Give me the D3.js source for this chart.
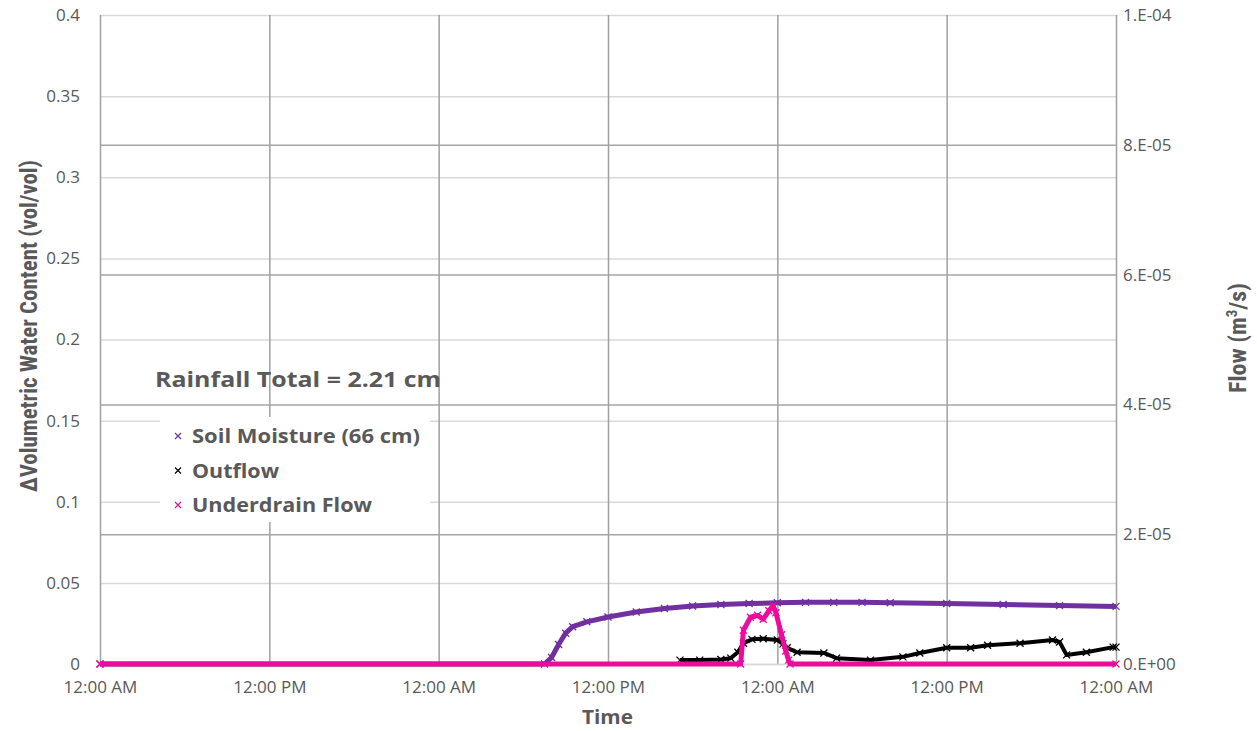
<!DOCTYPE html>
<html>
<head>
<meta charset="utf-8">
<script src="https://cdn.jsdelivr.net/npm/d3@7"></script>
<style>
    body { margin: 0; background: #fff; }
    svg { display: block; font-family: "Open Sans", Lato, sans-serif; }
    .tick text { fill: #595959; font-size: 17px; font-family: "Open Sans", Lato, sans-serif; }
    .title { fill: #595959; font-weight: bold; font-family: "Open Sans", Lato, sans-serif; }
    .narrow { font-family: "Liberation Sans Narrow", "Roboto Condensed", "Liberation Sans", sans-serif; }
</style>
</head>
<body>
<svg id="chart" width="1257" height="731"></svg>
<script>
// hours since the first 12:00 AM, value
const soilMoisture = [
    [0, 0], [31.5, 0], [32, 0.004], [32.5, 0.012], [33, 0.019], [33.5, 0.023],
    [34.5, 0.026], [36, 0.029], [38, 0.032], [40, 0.0342], [42, 0.0357],
    [44, 0.0367], [46, 0.0373], [48, 0.0377], [50, 0.038], [52, 0.038],
    [54, 0.038], [56, 0.0378], [60, 0.0373], [64, 0.0367], [68, 0.036], [72, 0.0355]
];
// m3/s
const outflow = [
    [41.1, 0.6e-6], [42.5, 0.6e-6], [44, 0.7e-6], [44.7, 0.9e-6], [45.2, 1.8e-6],
    [45.6, 3.2e-6], [46.2, 3.8e-6], [47.0, 3.9e-6], [48.0, 3.7e-6], [48.4, 3.1e-6],
    [48.7, 2.5e-6], [49.4, 1.8e-6], [51.3, 1.7e-6], [52.2, 0.9e-6], [54.6, 0.6e-6],
    [56.9, 1.1e-6], [58.1, 1.7e-6], [60.0, 2.5e-6], [61.7, 2.5e-6], [62.9, 2.9e-6],
    [65.2, 3.2e-6], [67.5, 3.7e-6], [68.0, 3.4e-6], [68.5, 1.4e-6], [69.9, 1.8e-6],
    [71.8, 2.6e-6], [72, 2.6e-6]
];
const underdrainFlow = [
    [0, 0], [45.4, 0], [45.6, 5.2e-6], [46.1, 7.2e-6], [46.6, 7.5e-6], [47.0, 6.9e-6],
    [47.4, 8.2e-6], [47.7, 9.0e-6], [47.9, 7.9e-6], [48.3, 4.5e-6], [48.6, 2.0e-6],
    [48.8, 0.6e-6], [48.9, 0], [72, 0]
];
const leftTicks = [0, 0.05, 0.1, 0.15, 0.2, 0.25, 0.3, 0.35, 0.4];
const leftTickLabels = ["0", "0.05", "0.1", "0.15", "0.2", "0.25", "0.3", "0.35", "0.4"];
const rightTicks = [0, 2e-5, 4e-5, 6e-5, 8e-5, 1e-4];
const rightTickLabels = ["0.E+00", "2.E-05", "4.E-05", "6.E-05", "8.E-05", "1.E-04"];
const xTickHours = [0, 12, 24, 36, 48, 60, 72];
const legendLabels = ["Soil Moisture (66 cm)", "Outflow", "Underdrain Flow"];

const margin = {top: 15, right: 141, bottom: 67, left: 100};
const width = 1257 - margin.left - margin.right;
const height = 731 - margin.top - margin.bottom;
const start = new Date(2013, 5, 1, 0, 0);
const toDate = h => new Date(start.getTime() + h * 3600e3);

const svg = d3.select("#chart");
const chart = svg.append("g").attr("transform", "translate(" + margin.left + "," + margin.top + ")");

const x = d3.scaleTime().domain([toDate(0), toDate(72)]).range([0, width]);
const yL = d3.scaleLinear().domain([0, 0.4]).range([height, 0]);
const yR = d3.scaleLinear().domain([0, 1e-4]).range([height, 0]);

// light primary gridlines
chart.append("g").attr("class", "grid left")
    .call(d3.axisLeft(yL).tickValues(leftTicks).tickSize(-width).tickFormat(""))
    .call(g => g.select(".domain").remove())
    .call(g => g.selectAll("line").attr("stroke", "#d9d9d9").attr("stroke-width", 1.5));
// secondary gridlines (darker)
chart.append("g").attr("class", "grid right")
    .call(d3.axisLeft(yR).tickValues(rightTicks.slice(1, -1)).tickSize(-width).tickFormat(""))
    .call(g => g.select(".domain").remove())
    .call(g => g.selectAll("line").attr("stroke", "#a6a6a6").attr("stroke-width", 1.5));
// vertical gridlines
chart.append("g").attr("class", "grid x")
    .call(d3.axisBottom(x).tickValues(xTickHours.map(toDate)).tickSize(height).tickFormat(""))
    .call(g => g.select(".domain").remove())
    .call(g => g.selectAll("line").attr("stroke", "#a0a0a0").attr("stroke-width", 1.5));

// axes labels
chart.append("g").attr("class", "y axis left")
    .call(d3.axisLeft(yL).tickValues(leftTicks).tickSize(0).tickPadding(20)
        .tickFormat((d, i) => leftTickLabels[i]))
    .call(g => g.select(".domain").remove());
chart.append("g").attr("class", "y axis right")
    .attr("transform", "translate(" + width + ",0)")
    .call(d3.axisRight(yR).tickValues(rightTicks).tickSize(0).tickPadding(7)
        .tickFormat((d, i) => rightTickLabels[i]))
    .call(g => g.select(".domain").remove());
chart.append("g").attr("class", "x axis")
    .attr("transform", "translate(0," + height + ")")
    .call(d3.axisBottom(x).tickValues(xTickHours.map(toDate)).tickSize(0).tickPadding(17)
        .tickFormat(d3.timeFormat("%I:%M %p")))
    .call(g => g.select(".domain").attr("stroke", "#d9d9d9").attr("stroke-width", 1.5));

// series
const cross = s => "M" + (-s) + "," + (-s) + "L" + s + "," + s + "M" + (-s) + "," + s + "L" + s + "," + (-s);
const series = [
    {data: soilMoisture, y: yL, color: "#7030a0", w: 5},
    {data: outflow, y: yR, color: "#000000", w: 4},
    {data: underdrainFlow, y: yR, color: "#ec0c9c", w: 5}
];
series.forEach(s => {
    const line = d3.line().x(d => x(toDate(d[0]))).y(d => s.y(d[1]));
    chart.append("path").datum(s.data)
        .attr("fill", "none").attr("stroke", s.color)
        .attr("stroke-width", s.w).attr("stroke-linejoin", "round")
        .attr("d", line);
    chart.append("g").selectAll("path").data(s.data).enter()
        .append("path")
        .attr("transform", d => "translate(" + x(toDate(d[0])) + "," + s.y(d[1]) + ")")
        .attr("d", cross(3.5)).attr("stroke", s.color).attr("stroke-width", 1.3);
});

// titles
svg.append("text").attr("class", "title narrow")
    .attr("transform", "translate(37,326) rotate(-90)")
    .attr("text-anchor", "middle").attr("font-size", 24)
    .attr("textLength", 332).attr("lengthAdjust", "spacingAndGlyphs")
    .text("\u0394Volumetric Water Content (vol/vol)");
const rt = svg.append("text").attr("class", "title narrow")
    .attr("transform", "translate(1246,338) rotate(-90)")
    .attr("text-anchor", "middle").attr("font-size", 24);
rt.append("tspan").text("Flow (m");
rt.append("tspan").attr("font-size", 15).attr("dy", -9).text("3");
rt.append("tspan").attr("dy", 9).text("/s)");
svg.append("text").attr("class", "title")
    .attr("x", 582).attr("y", 724).attr("font-size", 19)
    .attr("textLength", 51).attr("lengthAdjust", "spacingAndGlyphs")
    .text("Time");
svg.append("text").attr("class", "title")
    .attr("x", 155).attr("y", 387).attr("font-size", 21)
    .attr("textLength", 286).attr("lengthAdjust", "spacingAndGlyphs")
    .text("Rainfall Total = 2.21 cm");

// legend
const legend = svg.append("g").attr("transform", "translate(160,417)");
legend.append("rect").attr("width", 270).attr("height", 105).attr("fill", "#fff");
const colors = series.map(s => s.color);
const legendWidths = [228, 87, 180];
legendLabels.forEach((t, i) => {
    const row = legend.append("g").attr("transform", "translate(0," + (19 + i * 34.5) + ")");
    row.append("path").attr("transform", "translate(18,0)").attr("d", cross(3))
        .attr("stroke", colors[i]).attr("stroke-width", 1.2);
    row.append("text").attr("class", "title").attr("x", 32).attr("y", 7)
        .attr("font-size", 19)
        .attr("textLength", legendWidths[i]).attr("lengthAdjust", "spacingAndGlyphs")
        .text(t);
});
</script>
</body>
</html>
